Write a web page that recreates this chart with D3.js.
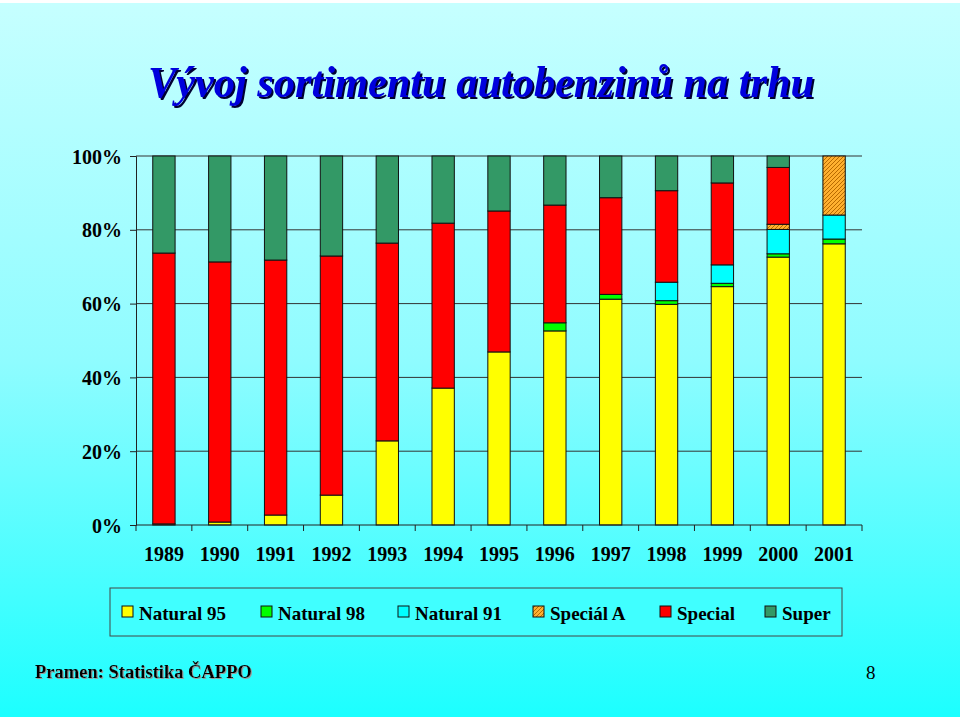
<!DOCTYPE html>
<html><head><meta charset="utf-8">
<script src="https://cdn.jsdelivr.net/npm/d3@7"></script>
<style>html,body{margin:0;padding:0;background:#fff;}svg{display:block;}</style>
</head><body>
<script>
const years = ["1989","1990","1991","1992","1993","1994","1995","1996","1997","1998","1999","2000","2001"];
const natural95 = [0.3, 0.8, 2.7, 8.1, 22.8, 37.1, 46.9, 52.6, 61.2, 59.8, 64.6, 72.6, 76.2];
const natural98 = [0, 0, 0, 0, 0, 0, 0, 2.2, 1.3, 1.0, 0.9, 0.9, 1.3];
const natural91 = [0, 0, 0, 0, 0, 0, 0, 0, 0, 5.0, 5.0, 6.6, 6.5];
const specialA  = [0, 0, 0, 0, 0, 0, 0, 0, 0, 0, 0, 1.4, 16.0];
const special   = [73.4, 70.5, 69.1, 64.8, 53.6, 44.7, 38.2, 31.9, 26.2, 24.8, 22.2, 15.4, 0];
const superB    = [26.3, 28.7, 28.2, 27.1, 23.6, 18.2, 14.9, 13.3, 11.3, 9.4, 7.3, 3.1, 0];
const seriesNames = ["Natural 95", "Natural 98", "Natural 91", "Speciál A", "Special", "Super"];
const yTicks = [0, 20, 40, 60, 80, 100];
const chartTitle = "Vývoj sortimentu autobenzinů na trhu";
const sourceText = "Pramen: Statistika ČAPPO";
const pageNo = "8";

(function () {
const seriesData = [natural95, natural98, natural91, specialA, special, superB];
const colors = ["#ffff00", "#00ff00", "#00ffff", "url(#hatch)", "#ff0000", "#339966"];

const W = 960, H = 720;
const svg = d3.select("body").append("svg").attr("width", W).attr("height", H);
const defs = svg.append("defs");
const grad = defs.append("linearGradient").attr("id", "bg").attr("x1", 0).attr("y1", 0).attr("x2", 0).attr("y2", 1);
grad.append("stop").attr("offset", "0%").attr("stop-color", "#c6ffff");
grad.append("stop").attr("offset", "50%").attr("stop-color", "#8ffcff");
grad.append("stop").attr("offset", "100%").attr("stop-color", "#1cffff");
const pat = defs.append("pattern").attr("id", "hatch").attr("patternUnits", "userSpaceOnUse")
  .attr("width", 4).attr("height", 4);
pat.append("rect").attr("width", 4).attr("height", 4).attr("fill", "#ffb030");
pat.append("path").attr("d", "M-1,1 l2,-2 M0,4 l4,-4 M3,5 l2,-2").attr("stroke", "#b86a00").attr("stroke-width", 1);
const sh = defs.append("filter").attr("id", "shadow").attr("x", "-5%").attr("y", "-20%").attr("width", "110%").attr("height", "140%");
sh.append("feDropShadow").attr("dx", 2).attr("dy", 2).attr("stdDeviation", 0.3)
  .attr("flood-color", "#000033").attr("flood-opacity", 1);
const sh2 = defs.append("filter").attr("id", "shadow2").attr("x", "-5%").attr("y", "-20%").attr("width", "110%").attr("height", "140%");
sh2.append("feDropShadow").attr("dx", 1).attr("dy", 1).attr("stdDeviation", 0.3)
  .attr("flood-color", "#999999").attr("flood-opacity", 1);

svg.append("rect").attr("width", W).attr("height", H).attr("fill", "#ffffff");
svg.append("rect").attr("x", 0).attr("y", 3).attr("width", W).attr("height", H - 6).attr("fill", "url(#bg)");

// Title with shadow
svg.append("text").attr("x", 481).attr("y", 97).attr("text-anchor", "middle")
  .attr("font-family", "Liberation Serif, serif").attr("font-weight", "bold").attr("font-style", "italic")
  .attr("font-size", 45).attr("fill", "#0000dd").attr("filter", "url(#shadow)")
  .attr("textLength", 666).attr("lengthAdjust", "spacingAndGlyphs").text(chartTitle);

const pL = 136, pR = 862, pT = 156, pB = 525;
const x = d3.scaleBand().domain(years).range([pL, pR]).padding(0);
const y = d3.scaleLinear().domain([0, 100]).range([pB, pT]);

// gridlines
svg.append("g").selectAll("line").data(yTicks.filter(d => d > 0)).join("line")
  .attr("x1", pL).attr("x2", pR).attr("y1", d => y(d)).attr("y2", d => y(d))
  .attr("stroke", "#333333").attr("stroke-width", 1);

// y axis
const yAxis = d3.axisLeft(y).tickValues(yTicks).tickFormat(d => d + "%").tickSize(6).tickPadding(8);
const ya = svg.append("g").attr("transform", `translate(${pL},0)`).call(yAxis);
ya.select(".domain").attr("stroke", "#222");
ya.selectAll(".tick line").attr("stroke", "#222");
ya.selectAll("text").attr("font-family", "Liberation Serif, serif").attr("font-size", 20)
  .attr("font-weight", "bold").attr("fill", "#000").attr("dy", "0.35em");

// stacked bars
const stackRows = years.map((yr, i) => {
  const o = { year: yr };
  seriesNames.forEach((s, k) => o[s] = seriesData[k][i]);
  return o;
});
const stacked = d3.stack().keys(seriesNames)(stackRows);
const bw = x.bandwidth() * 0.4;
svg.append("g").selectAll("g").data(stacked).join("g")
  .attr("fill", (d, k) => colors[k])
  .selectAll("rect").data(d => d.filter(p => p[1] - p[0] > 0)).join("rect")
  .attr("x", d => x(d.data.year) + (x.bandwidth() - bw) / 2)
  .attr("width", bw)
  .attr("y", d => y(d[1]))
  .attr("height", d => y(d[0]) - y(d[1]))
  .attr("stroke", "#111").attr("stroke-width", 1);

// x axis
const xTickPos = years.map(yr => x(yr)).concat([x(years[years.length - 1]) + x.bandwidth()]);
const xa = svg.append("g");
xa.append("line").attr("x1", pL).attr("x2", pR).attr("y1", pB).attr("y2", pB).attr("stroke", "#222");
xa.selectAll(".tk").data(xTickPos).join("line").attr("class", "tk")
  .attr("x1", d => d).attr("x2", d => d).attr("y1", pB).attr("y2", pB + 6).attr("stroke", "#222");
xa.selectAll("text").data(years).join("text")
  .attr("x", d => x(d) + x.bandwidth() / 2).attr("y", 561).attr("text-anchor", "middle")
  .attr("font-family", "Liberation Serif, serif").attr("font-size", 20).attr("font-weight", "bold")
  .attr("fill", "#000").text(d => d);

// legend
const lg = svg.append("g");
lg.append("rect").attr("x", 110).attr("y", 588).attr("width", 732).attr("height", 48)
  .attr("fill", "#40ffff").attr("stroke", "#444").attr("stroke-width", 1);
const legX = [122, 261, 398, 533, 660, 765];
const items = lg.selectAll("g").data(seriesNames).join("g")
  .attr("transform", (d, i) => `translate(${legX[i]},0)`);
items.append("rect").attr("x", 0).attr("y", 606).attr("width", 11).attr("height", 11)
  .attr("fill", (d, i) => colors[i]).attr("stroke", "#111").attr("stroke-width", 1);
items.append("text").attr("x", 17).attr("y", 620)
  .attr("font-family", "Liberation Serif, serif").attr("font-size", 19).attr("font-weight", "bold")
  .attr("fill", "#000").text(d => d);

// footer
svg.append("text").attr("x", 35).attr("y", 678).attr("font-family", "Liberation Serif, serif")
  .attr("font-size", 18.5).attr("font-weight", "bold").attr("fill", "#000")
  .attr("filter", "url(#shadow2)").text(sourceText);
svg.append("text").attr("x", 866).attr("y", 679).attr("font-family", "Liberation Serif, serif")
  .attr("font-size", 19).attr("fill", "#000").text(pageNo);
})();
</script>
</body></html>
